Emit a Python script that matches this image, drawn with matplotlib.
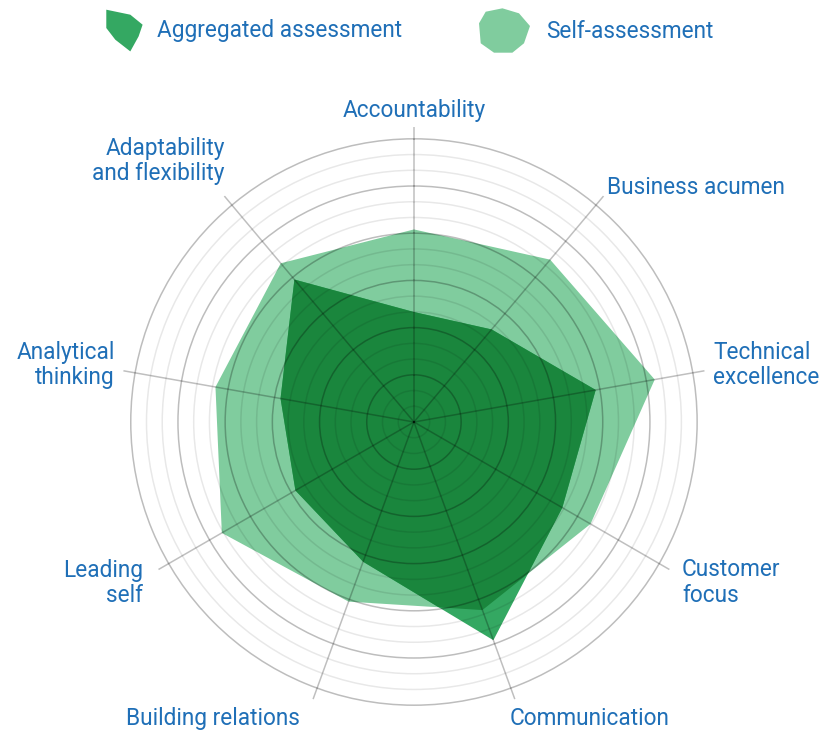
import numpy as np
import matplotlib
matplotlib.use("Agg")
import matplotlib.pyplot as plt
from matplotlib.path import Path
from matplotlib.lines import Line2D
from matplotlib.colors import to_rgb

# ---------------- data ----------------
categories = ["Accountability", "Business acumen", "Technical\nexcellence",
              "Customer\nfocus", "Communication", "Building relations",
              "Leading\nself", "Analytical\nthinking", "Adaptability\nand flexibility"]
aggregated = [2.33, 2.56, 3.91, 3.63, 4.92, 3.15, 2.90, 2.87, 3.94]
self_assessment = [4.08, 4.49, 5.18, 4.32, 4.24, 4.05, 4.70, 4.27, 4.39]
series_names = ["Aggregated assessment", "Self-assessment"]

# ---------------- style ----------------
plt.rcParams['font.family'] = ['Roboto', 'DejaVu Sans']
TEXT = '#1f6fb7'
C_AGG = '#34a862'
C_SELF = '#80cc9e'
c_ov = tuple(a * b for a, b in zip(to_rgb(C_AGG), to_rgb(C_SELF)))  # multiply blend
FS = 16.3

fig = plt.figure(figsize=(8.21, 7.31), dpi=100)
ax = fig.add_axes([0.1449, 0.01915, 0.7186, 0.8071], projection='polar')
ax.set_theta_zero_location('N')
ax.set_theta_direction(-1)

n = len(categories)
thetas = np.arange(n) * 2 * np.pi / n

p_self = ax.fill(thetas, self_assessment, color=C_SELF, lw=0, zorder=1)[0]
ax.fill(thetas, aggregated, color=C_AGG, lw=0, zorder=1.1)
ov = ax.fill(thetas, aggregated, color=c_ov, lw=0, zorder=1.2)[0]
ov.set_clip_path(p_self)

# grid
levels = np.arange(1, 19) / 3.0
ax.set_ylim(0, 6.25)
ax.set_yticks(levels)
ax.set_yticklabels([])
ax.set_xticks(thetas)
ax.set_xticklabels([])
ax.tick_params(length=0)
ax.spines['polar'].set_visible(False)
ax.set_axisbelow(False)
ax.grid(True)
for i, gl in enumerate(ax.yaxis.get_gridlines()):
    major = (i + 1) % 3 == 0
    gl.set_color('black')
    gl.set_alpha(0.26 if major else 0.09)
    gl.set_linewidth(1.1)
    gl.set_linestyle('-')
for gl in ax.xaxis.get_gridlines():
    gl.set_color('black')
    gl.set_alpha(0.25)
    gl.set_linewidth(1.1)
    gl.set_linestyle('-')

# category labels
label_layout = [  # (theta deg, r, ha, va)
    (0.0, 6.59, 'center', 'center'),
    (39.4, 6.44, 'left', 'center'),
    (79.2, 6.45, 'left', 'center'),
    (120.9, 6.62, 'left', 'center'),
    (162.1, 6.61, 'left', 'center'),
    (201.0, 6.72, 'right', 'center'),
    (239.3, 6.68, 'right', 'center'),
    (280.8, 6.45, 'right', 'center'),
    (324.1, 6.83, 'right', 'center'),
]
for lab, (td, r, ha, va) in zip(categories, label_layout):
    ax.text(np.deg2rad(td), r, lab, ha=ha, va=va,
            multialignment=ha if ha != 'center' else 'center',
            color=TEXT, fontsize=FS, linespacing=1.13, clip_on=False)

# legend with custom shape markers (one legend box per series)
agg_icon = [(-18.2, 20.8), (5.8, 15.8), (18.1, 5.8), (14.1, -5.9), (5.8, -20.9),
            (-9.2, -9.2), (-18.2, 2.5), (-18.2, 20.8)]
self_icon = [(-25.5, 7.2), (-18.8, 18.8), (-2.1, 22.2), (14.5, 17.2), (25.5, 4.5),
             (19.5, -12.8), (7.9, -22.2), (-10.5, -22.2), (-23.8, -12.8), (-25.5, 7.2)]
h1 = Line2D([], [], linestyle='None', marker=Path(agg_icon, closed=True), markersize=30.1,
            markerfacecolor=C_AGG, markeredgewidth=0)
h2 = Line2D([], [], linestyle='None', marker=Path(self_icon, closed=True), markersize=36.7,
            markerfacecolor=C_SELF, markeredgewidth=0)
for h, name, x0, pad in [(h1, series_names[0], 99, 0.35), (h2, series_names[1], 479, 0.75)]:
    leg = fig.legend([h], [name], loc='center left',
                     bbox_to_anchor=(x0 / 821, 1 - 31 / 731), frameon=False,
                     fontsize=FS, handlelength=2.2, handletextpad=pad,
                     borderpad=0, borderaxespad=0)
    for t in leg.get_texts():
        t.set_color(TEXT)

fig.savefig('out.png', dpi=100)
